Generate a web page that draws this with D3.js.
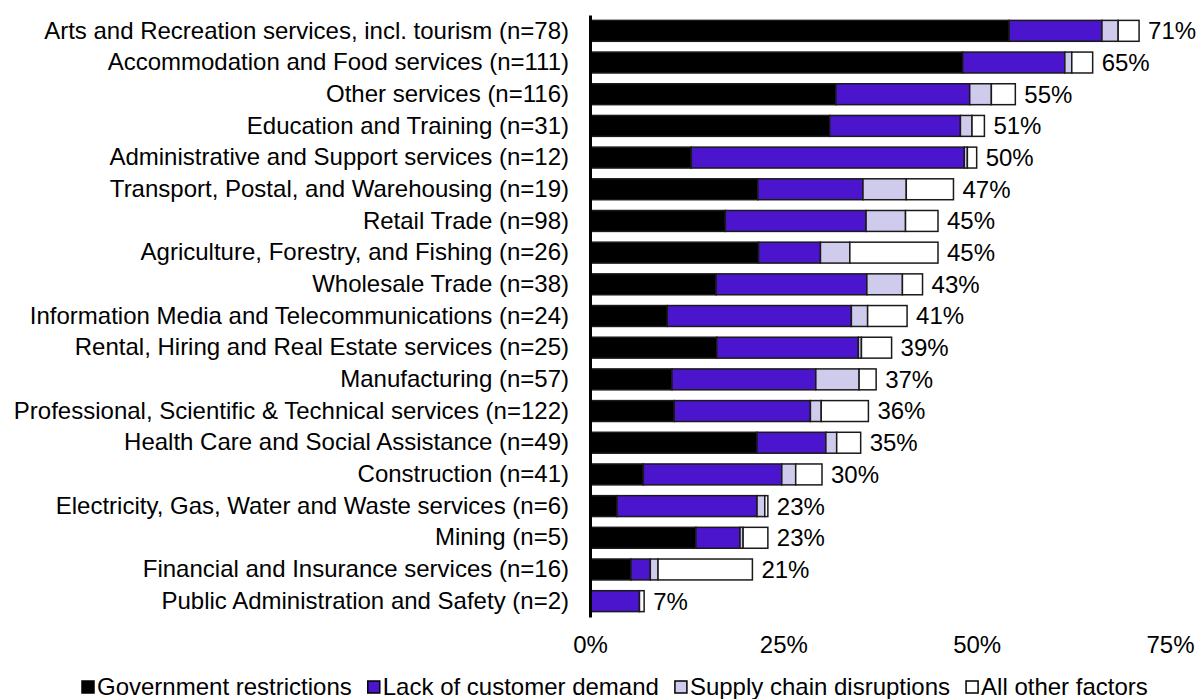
<!DOCTYPE html>
<html>
<head>
<meta charset="utf-8">
<script src="https://cdn.jsdelivr.net/npm/d3@7"></script>
<style>
  html, body { margin: 0; padding: 0; background: #fff; }
  svg { display: block; font-family: "Liberation Sans", Arial, sans-serif; }
</style>
</head>
<body>
<svg id="chart" width="1197" height="699"></svg>
<script>
// Industries, ordered by share of businesses reporting an impact
const categories = [
  "Arts and Recreation services, incl. tourism (n=78)",
  "Accommodation and Food services (n=111)",
  "Other services (n=116)",
  "Education and Training (n=31)",
  "Administrative and Support services (n=12)",
  "Transport, Postal, and Warehousing (n=19)",
  "Retail Trade (n=98)",
  "Agriculture, Forestry, and Fishing (n=26)",
  "Wholesale Trade (n=38)",
  "Information Media and Telecommunications (n=24)",
  "Rental, Hiring and Real Estate services (n=25)",
  "Manufacturing (n=57)",
  "Professional, Scientific & Technical services (n=122)",
  "Health Care and Social Assistance (n=49)",
  "Construction (n=41)",
  "Electricity, Gas, Water and Waste services (n=6)",
  "Mining (n=5)",
  "Financial and Insurance services (n=16)",
  "Public Administration and Safety (n=2)"
];

// Percentage of businesses citing each factor
const governmentRestrictions = [54.2, 48.2, 31.8, 31.0, 13.1, 21.7, 17.5, 21.8, 16.3, 10.0, 16.4, 10.6, 10.9, 21.6, 6.9, 3.5, 13.7, 5.3, 0];
const lackOfDemand           = [12.0, 13.2, 17.3, 16.9, 35.3, 13.6, 18.2, 8.0, 19.5, 23.8, 18.3, 18.6, 17.6, 8.9, 17.9, 18.1, 5.7, 2.5, 6.4];
const supplyChain            = [2.1, 0.9, 2.8, 1.5, 0.4, 5.6, 5.1, 3.8, 4.6, 2.1, 0.4, 5.6, 1.4, 1.4, 1.8, 1.0, 0.4, 1.0, 0];
const otherFactors           = [2.7, 2.7, 3.1, 1.6, 1.2, 6.1, 4.2, 11.4, 2.6, 5.1, 3.9, 2.2, 6.1, 3.1, 3.4, 0.4, 3.2, 12.2, 0.6];

const seriesNames = ["Government restrictions", "Lack of customer demand", "Supply chain disruptions", "All other factors"];
const seriesColors = ["#000000", "#4b14cd", "#cfcbec", "#ffffff"];
const xTicks = [0, 25, 50, 75];

const keys = ["gov", "demand", "supply", "other"];
const rows = categories.map((c, i) => ({
  category: c,
  gov: governmentRestrictions[i],
  demand: lackOfDemand[i],
  supply: supplyChain[i],
  other: otherFactors[i]
}));

const svg = d3.select("#chart");
const fontSize = 24;

const x = d3.scaleLinear().domain([0, 75]).range([590, 1170]);
const y = d3.scaleBand().domain(categories).range([15, 617]).paddingInner(0.34).paddingOuter(0.17);
const color = d3.scaleOrdinal().domain(keys).range(seriesColors);

const stacked = d3.stack().keys(keys)(rows);

// Stacked bars
svg.append("g")
  .selectAll("g")
  .data(stacked)
  .join("g")
    .attr("fill", d => color(d.key))
  .selectAll("rect")
  .data(d => d.filter(s => s[1] - s[0] > 0))
  .join("rect")
    .attr("x", d => x(d[0]))
    .attr("y", d => y(d.data.category))
    .attr("width", d => x(d[1]) - x(d[0]))
    .attr("height", y.bandwidth())
    .attr("stroke", "#1a1a1a")
    .attr("stroke-width", 1.5);

// Total labels at the end of each bar
svg.append("g")
  .selectAll("text")
  .data(rows)
  .join("text")
    .attr("x", d => x(d.gov + d.demand + d.supply + d.other) + 9)
    .attr("y", d => y(d.category) + y.bandwidth() / 2)
    .attr("dy", "0.35em")
    .attr("font-size", fontSize)
    .attr("fill", "#000")
    .text(d => d3.format(".0f")(d.gov + d.demand + d.supply + d.other) + "%");

// Category axis
const yAxis = svg.append("g")
  .attr("transform", `translate(${x(0)},0)`)
  .call(d3.axisLeft(y).tickSize(0).tickPadding(21));
yAxis.select(".domain").attr("stroke", "#000").attr("stroke-width", 3);
yAxis.selectAll("text")
  .attr("font-size", fontSize)
  .attr("font-family", "Liberation Sans, Arial, sans-serif")
  .attr("fill", "#000");

// Percentage axis (labels only)
const xAxis = svg.append("g")
  .attr("transform", "translate(0,617)")
  .call(d3.axisBottom(x).tickValues(xTicks).tickFormat(d => d + "%").tickSize(0).tickPadding(19));
xAxis.select(".domain").remove();
xAxis.selectAll("text")
  .attr("font-size", fontSize)
  .attr("font-family", "Liberation Sans, Arial, sans-serif")
  .attr("fill", "#000");

// Legend
const legend = svg.append("g").attr("transform", "translate(82,687)");
let lx = 0;
seriesNames.forEach((name, i) => {
  const item = legend.append("g").attr("transform", `translate(${lx},0)`);
  item.append("rect")
    .attr("x", 0).attr("y", -6)
    .attr("width", 12).attr("height", 12)
    .attr("fill", seriesColors[i])
    .attr("stroke", "#000")
    .attr("stroke-width", 1.5);
  const t = item.append("text")
    .attr("x", 15)
    .attr("dy", "0.35em")
    .attr("font-size", fontSize)
    .attr("fill", "#000")
    .text(name);
  lx += 15 + t.node().getComputedTextLength() + 16;
});
</script>
</body>
</html>
